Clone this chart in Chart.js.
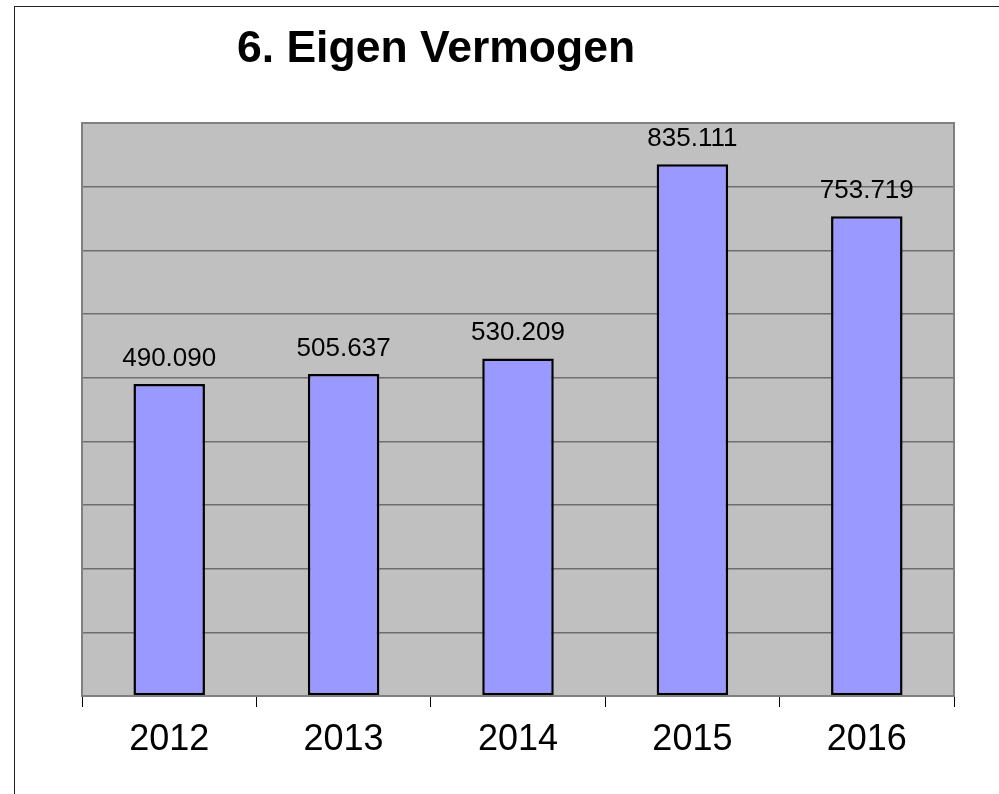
<!DOCTYPE html>
<html>
<head>
<meta charset="utf-8">
<title>6. Eigen Vermogen</title>
<script src="https://cdn.jsdelivr.net/npm/chart.js@4.4.1/dist/chart.umd.min.js"></script>
<style>
  html, body { margin: 0; padding: 0; background: #fff; }
  #wrap { position: relative; width: 999px; height: 794px; overflow: hidden; }
  #frame { position: absolute; left: 14px; top: 6px; width: 2000px; height: 2000px;
           border-left: 1px solid #222; border-top: 1px solid #222; }
  #chart { position: absolute; left: 0; top: 0; }
</style>
</head>
<body>
<div id="wrap">
  <div id="frame"></div>
  <canvas id="chart" width="999" height="794"></canvas>
</div>
<script>
// ---- data ----
const years = ['2012', '2013', '2014', '2015', '2016'];
const eigenVermogen = [490090, 505637, 530209, 835111, 753719];
const yMax = 900000;
const yStep = 100000;
const titleText = '6. Eigen Vermogen';

// 490090 -> "490.090"
function fmt(v) {
  return String(v).replace(/\B(?=(\d{3})+(?!\d))/g, '.');
}

// grey plot area + border
const plotBg = {
  id: 'plotBg',
  beforeDraw(chart) {
    const { ctx, chartArea: a } = chart;
    ctx.save();
    ctx.fillStyle = '#C0C0C0';
    ctx.fillRect(a.left, a.top, a.right - a.left, a.bottom - a.top);
    ctx.restore();
  },
  afterDraw(chart) {
    const { ctx, chartArea: a } = chart;
    ctx.save();
    ctx.strokeStyle = '#808080';
    ctx.lineWidth = 2;
    ctx.strokeRect(a.left, a.top, a.right - a.left, a.bottom - a.top);
    ctx.restore();
  }
};

// value labels over bars + title
const labelsAndTitle = {
  id: 'labelsAndTitle',
  afterDatasetsDraw(chart) {
    const { ctx } = chart;
    const meta = chart.getDatasetMeta(0);
    ctx.save();
    ctx.fillStyle = '#000';
    ctx.textAlign = 'center';
    ctx.textBaseline = 'alphabetic';
    ctx.font = '26px "Liberation Sans", Arial, sans-serif';
    meta.data.forEach((bar, i) => {
      ctx.fillText(fmt(eigenVermogen[i]), bar.x, bar.y - 18);
    });
    ctx.font = 'bold 44.5px "Liberation Sans", Arial, sans-serif';
    ctx.fillText(titleText, 436, 62);
    ctx.restore();
  }
};

new Chart(document.getElementById('chart'), {
  type: 'bar',
  data: {
    labels: years,
    datasets: [{
      data: eigenVermogen,
      backgroundColor: '#9999FF',
      borderColor: '#000',
      borderWidth: 2.5,
      borderSkipped: false,
      categoryPercentage: 1,
      barPercentage: 0.41
    }]
  },
  options: {
    responsive: false,
    animation: false,
    layout: { padding: { left: 82, right: 45, top: 123, bottom: 0 } },
    plugins: {
      legend: { display: false },
      title: { display: false },
      tooltip: { enabled: false }
    },
    scales: {
      x: {
        grid: { drawOnChartArea: false, drawTicks: true, tickLength: 11, color: '#000', offset: true },
        border: { display: false },
        ticks: {
          color: '#000',
          font: { family: '"Liberation Sans", Arial, sans-serif', size: 36 },
          padding: 11
        },
        afterFit(scale) { scale.height = 98; }
      },
      y: {
        min: 0,
        max: yMax,
        ticks: { display: false, stepSize: yStep },
        grid: { color: '#6E6E6E', lineWidth: 1.5, drawTicks: false },
        border: { display: false },
        afterFit(scale) { scale.width = 0; }
      }
    }
  },
  plugins: [plotBg, labelsAndTitle]
});
</script>
</body>
</html>
